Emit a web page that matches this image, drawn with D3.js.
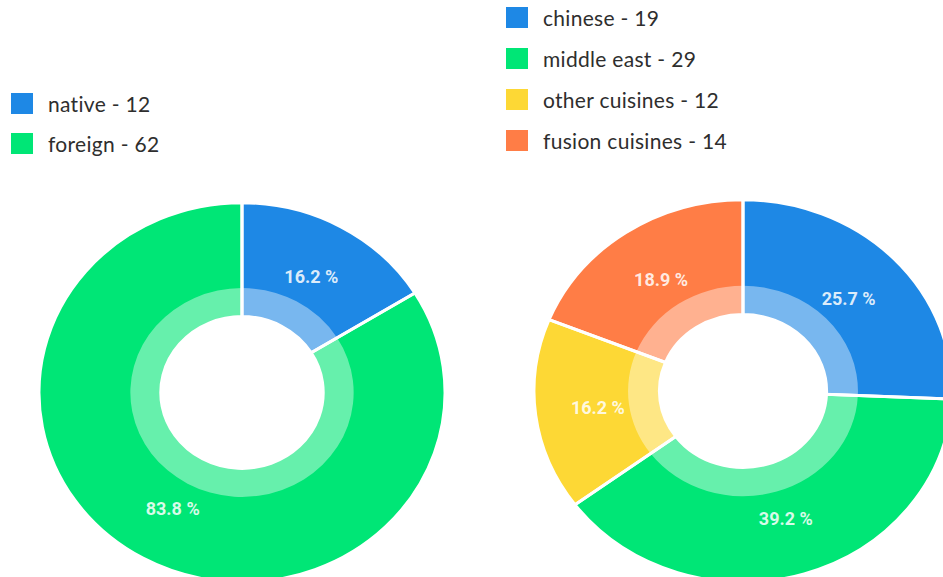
<!DOCTYPE html>
<html>
<head>
<meta charset="utf-8">
<script src="https://cdn.jsdelivr.net/npm/d3@7/dist/d3.min.js"></script>
<style>
  html, body { margin: 0; padding: 0; background: #fff; overflow: hidden; }
  svg { display: block; }
</style>
</head>
<body>
<svg id="chart" width="943" height="577"></svg>
<script>
// Origin of dishes: native vs foreign
const originLabels = ["native", "foreign"];
const originValues = [12, 62];
const originColors = ["#1e88e5", "#00e676"];

// Foreign dishes by cuisine
const cuisineLabels = ["chinese", "middle east", "other cuisines", "fusion cuisines"];
const cuisineValues = [19, 29, 12, 14];
const cuisineColors = ["#1e88e5", "#00e676", "#fdd835", "#ff7d46"];

const svg = d3.select("#chart");

function legend(x, y, labels, values, colors, step) {
  const g = svg.append("g").attr("transform", `translate(${x},${y})`);
  const rows = g.selectAll("g").data(labels).join("g")
    .attr("transform", (d, i) => `translate(0,${i * step})`);
  rows.append("rect")
    .attr("x", 0).attr("y", 0).attr("width", 22).attr("height", 21)
    .attr("fill", (d, i) => colors[i]);
  rows.append("text")
    .attr("x", 37).attr("y", 19)
    .attr("font-family", "Lato, 'Open Sans', sans-serif")
    .attr("font-size", 21)
    .attr("letter-spacing", 0.3)
    .attr("fill", "#2e2e2e")
    .text((d, i) => `${d} - ${values[i]}`);
}

function donut(cx, cy, R, sy, labels, values, colors) {
  const total = d3.sum(values);
  const pie = d3.pie().sort(null).value(d => d)(values);
  const arcMain = d3.arc().innerRadius(R * 0.4).outerRadius(R);
  const arcInner = d3.arc().innerRadius(R * 0.4).outerRadius(R * 0.55);

  const g = svg.append("g").attr("transform", `translate(${cx},${cy}) scale(1,${sy})`);
  g.selectAll("path.slice").data(pie).join("path")
    .attr("class", "slice")
    .attr("d", arcMain)
    .attr("fill", (d, i) => colors[i]);
  g.selectAll("path.ring").data(pie).join("path")
    .attr("class", "ring")
    .attr("d", arcInner)
    .attr("fill", "#fff")
    .attr("fill-opacity", 0.4);
  // white separators between slices
  g.selectAll("path.sep").data(pie).join("path")
    .attr("class", "sep")
    .attr("d", arcMain)
    .attr("fill", "none")
    .attr("stroke", "#fff")
    .attr("stroke-width", 3)
    .attr("vector-effect", "non-scaling-stroke");

  svg.append("g").selectAll("text").data(pie).join("text")
    .attr("transform", d => {
      const c = arcMain.centroid(d);
      return `translate(${cx + c[0]},${cy + c[1] * sy})`;
    })
    .attr("text-anchor", "middle")
    .attr("dy", "0.35em")
    .attr("font-family", "Roboto, sans-serif")
    .attr("font-weight", 700)
    .attr("font-size", 18)
    .attr("fill", "#fff")
    .attr("fill-opacity", 0.85)
    .text(d => `${(d.value / total * 100).toFixed(1)} %`);
}

donut(242, 392.5, 203, 0.935, originLabels, originValues, originColors);
donut(743, 391, 209, 0.915, cuisineLabels, cuisineValues, cuisineColors);

legend(11, 93, originLabels, originValues, originColors, 40);
legend(506, 7, cuisineLabels, cuisineValues, cuisineColors, 41);
</script>
</body>
</html>
